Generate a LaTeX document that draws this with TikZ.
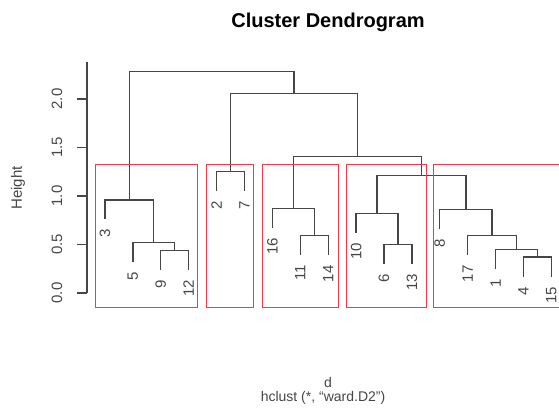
\documentclass[tikz,border=0pt]{standalone}
\usepackage{fontspec}
\setmainfont{Liberation Sans}
\usepackage{tikz}
\usetikzlibrary{calc,positioning}
\definecolor{grisOscuro}{RGB}{70, 70, 70}
\definecolor{rojoCaja}{RGB}{235, 60, 80}
\tikzstyle{rama}=[draw=grisOscuro, line width=1.25pt]
\tikzstyle{caja}=[draw=rojoCaja, line width=1pt]
\tikzstyle{hoja}=[rotate=90, anchor=east, inner sep=0pt,
                  text=grisOscuro, font=\fontsize{15}{15}\selectfont]
\tikzstyle{marca}=[rotate=90, inner sep=0pt,
                   text=grisOscuro, font=\fontsize{15}{15}\selectfont]
\tikzstyle{pie}=[anchor=base, inner sep=0pt, text=grisOscuro,
                 font=\fontsize{14}{14}\selectfont]

\begin{document}
\begin{tikzpicture}[x=1pt,y=-1pt]
    \clip (0,0) rectangle (559,413);

    \node (titulo) at (328,22) {\fontsize{20}{20}\selectfont\bfseries Cluster Dendrogram};
    \node[marca] (altura) at (18,188) {Height};
    \node[pie] (d) at (328,387) {d};
    \node[pie] (metodo) at (323,401) {hclust (*, ``ward.D2'')};

    \begin{scope}[shift={(0,293)},y=97pt]
        % eje
        \draw[rama] (87,0) -- (87,2.38);
        \foreach \v [count=\k] in {0.0,0.5,1.0,1.5,2.0}
            \draw[rama] (87,\v) -- (77,\v) (57,\v) node[marca] (y\k) {\v};

        % hojas
        \foreach \nom/\h [count=\i from 0] in {3/0.96,5/0.52,9/0.44,12/0.44,2/1.25,7/1.25,
            16/0.87,11/0.59,14/0.59,10/0.82,6/0.50,13/0.50,8/0.86,17/0.59,1/0.45,4/0.37,15/0.37}
        {
            \coordinate (h\nom) at ({105+27.9*\i},{\h-0.2});
            \node[hoja] (t\nom) at ([yshift=-10pt]h\nom) {\nom};
        }

        % uniones
        \foreach \a/\b/\nom/\h in {h9/h12/a912/0.44, h5/a912/a5/0.52, h3/a5/a3/0.96,
            h2/h7/a27/1.25, h11/h14/a1114/0.59, h16/a1114/a16/0.87,
            h6/h13/a613/0.50, h10/a613/a10/0.82, h4/h15/a415/0.37,
            h1/a415/a1/0.45, h17/a1/a17/0.59, h8/a17/a8/0.86,
            a10/a8/a108/1.21, a16/a108/a16b/1.41, a27/a16b/a27b/2.06, a3/a27b/raiz/2.28}
        {
            \path ($(\a)!0.5!(\b)$) coordinate (c);
            \coordinate (\nom) at (c |- 0,\h);
            \draw[rama] (\a) |- (\nom) -| (\b);
        }
    \end{scope}

    % grupos
    \foreach \a/\b in {95/197,206/253,262/338,346/426,433/575}
        \draw[caja] (\a,164) rectangle (\b,307);

\end{tikzpicture}
\end{document}
